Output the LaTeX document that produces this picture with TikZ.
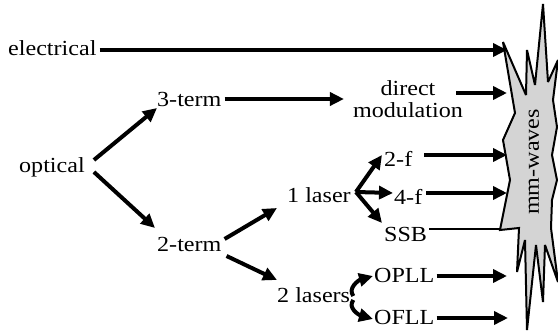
\documentclass[tikz,border=0pt]{standalone}
\usepackage{fontspec}
\usepackage{graphicx}
\setmainfont{Liberation Serif}
\usetikzlibrary{arrows.meta,calc}
% slightly widened lettering
\newcommand\sx[1]{\scalebox{1.12}[1]{#1}}
\begin{document}
\begin{tikzpicture}[x=1pt,y=-1pt,
  lbl/.style={inner sep=0pt, font=\fontsize{21.5}{22}\selectfont},
  arr/.style={line width=4pt, -{Triangle[length=14pt,width=13pt]}},
  thinline/.style={line width=2.4pt},
  burst/.style={line width=2pt, draw=black, fill=black!17, line join=miter, miter limit=4}]
\useasboundingbox (0,0) rectangle (558,331);

% the mm-wave burst
\draw[burst] (503,42) -- (526,95) -- (527,50) -- (535,85) -- (543,4) -- (548,82)
  -- (558,60) -- (553,100) -- (557,127) -- (552,155) -- (557,180) -- (552,200)
  -- (551,228) -- (558,282) -- (545,245) -- (543,302) -- (536,245) -- (527,330)
  -- (525,240) -- (517,272) -- (519,228) -- (500,230) -- (510,180) -- (503,140)
  -- (515,113) -- cycle;
\node[lbl, rotate=90] (mm) at (534,162) {\sx{mm-waves}};

% labels
\node[lbl, anchor=base west] (el) at (8,56) {\sx{electrical}};
\node[lbl, anchor=base west] (t3) at (157,107) {\sx{3-term}};
\node[lbl, align=center] (dm) at (408,99) {\sx{direct}\\\sx{modulation}};
\node[lbl, anchor=base west] (op) at (19,173) {\sx{optical}};
\node[lbl, anchor=base west] (t2) at (157,252) {\sx{2-term}};
\node[lbl, anchor=base west] (l1) at (287,203) {\sx{1 laser}};
\node[lbl, anchor=base west] (l2) at (277,303) {\sx{2 lasers}};
\node[lbl, anchor=base west] (f2) at (384,167) {\sx{2-f}};
\node[lbl, anchor=base west] (f4) at (394,205) {\sx{4-f}};
\node[lbl, anchor=base west] (ssb) at (384,242) {\sx{SSB}};
\node[lbl, anchor=base west] (opll) at (374,283) {\sx{OPLL}};
\node[lbl, anchor=base west] (ofll) at (374,325) {\sx{OFLL}};

% entry points on the burst
\coordinate (in1) at (507,50);
\coordinate (in2) at (507,93);
\coordinate (in3) at (507,155);
\coordinate (in4) at (507,193);
\coordinate (in5) at (501,229);
\coordinate (in6) at (507,276);
\coordinate (in7) at (508,318);

% tree connectors
\draw[arr] ($(op.base east)+(9,-13)$) -- ($(t3.base west)+(0,1)$);
\draw[arr] ($(op.base east)+(9,-1)$) -- ($(t2.base west)+(-2,-24)$);
\draw[arr] ($(t3.base east)+(3,-8)$) -- ($(dm.west)+(-9,0)$);
\draw[arr] ($(t2.base east)+(3,-13)$) -- ($(l1.base west)+(-10,5)$);
\draw[arr] ($(t2.base east)+(5,4)$) -- ($(l2.base west)+(0,-23)$);
\draw[arr] ($(l1.base east)+(5,-11)$) -- ($(f2.base west)+(-2,-12)$);
\draw[arr] ($(l1.base east)+(5,-11)$) -- ($(f4.base west)+(-1,-12)$);
\draw[arr] ($(l1.base east)+(5,-11)$) -- ($(ssb.base west)+(-2,-19)$);
\draw[arr] ($(l2.base east)+(3,-7)$) .. controls +(-6,-8) and +(-14,4) .. ($(opll.base west)+(-1,-7)$);
\draw[arr] ($(l2.base east)+(3,-3)$) .. controls +(-6,8) and +(-14,-4) .. ($(ofll.base west)+(-1,-6)$);

% connectors into the burst
\draw[arr] ($(el.base east)+(3,-6)$) -- (in1);
\draw[arr] ($(dm.east)+(-7,-6)$) -- (in2);
\draw[arr] ($(f2.base east)+(12,-12)$) -- (in3);
\draw[arr] ($(f4.base east)+(4,-12)$) -- (in4);
\draw[thinline] ($(ssb.base east)+(2,-13)$) -- (in5);
\draw[arr] ($(opll.base east)+(2,-7)$) -- (in6);
\draw[arr] ($(ofll.base east)+(2,-7)$) -- (in7);
\end{tikzpicture}
\end{document}
